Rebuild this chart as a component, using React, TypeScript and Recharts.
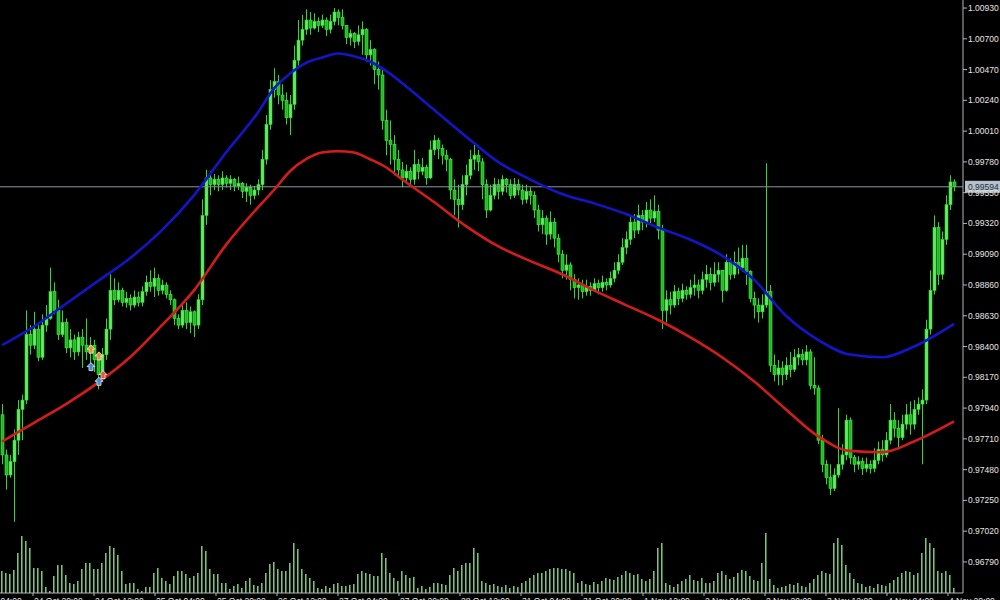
import React from "react";
import { ComposedChart, Bar, Line, XAxis, YAxis, Scatter, ReferenceLine } from "recharts";

const FONT = "Liberation Sans, Arial, sans-serif";

// Hourly candles (open of each candle = previous close)
const FIRST_OPEN = 0.9789;
const closes = [
  0.9759, 0.9744, 0.9754, 0.9770, 0.9793, 0.9800, 0.9849, 0.9841, 0.9853, 0.9832,
  0.9856, 0.9861, 0.9881, 0.9867, 0.9849, 0.9858, 0.9839, 0.9845, 0.9836, 0.9847,
  0.9841, 0.9836, 0.9841, 0.9830, 0.9819, 0.9834, 0.9853, 0.9882, 0.9875, 0.9882,
  0.9873, 0.9876, 0.9871, 0.9877, 0.9873, 0.9881, 0.9888, 0.9885, 0.9891, 0.9882,
  0.9886, 0.9879, 0.9875, 0.9861, 0.9856, 0.9867, 0.9858, 0.9866, 0.9856, 0.9875,
  0.9938, 0.9966, 0.9961, 0.9965, 0.9961, 0.9966, 0.9962, 0.9965, 0.9960, 0.9962,
  0.9956, 0.9959, 0.9953, 0.9957, 0.9961, 0.9980, 1.0006, 1.0032, 1.0038, 1.0028,
  1.0024, 1.0011, 1.0021, 1.0054, 1.0069, 1.0077, 1.0084, 1.0078, 1.0083, 1.0080,
  1.0084, 1.0077, 1.0083, 1.0090, 1.0086, 1.0080, 1.0071, 1.0074, 1.0068, 1.0073,
  1.0077, 1.0058, 1.0062, 1.0047, 1.0043, 1.0009, 0.9994, 0.9991, 0.9980, 0.9972,
  0.9966, 0.9971, 0.9965, 0.9976, 0.9971, 0.9974, 0.9966, 0.9987, 0.9994, 0.9988,
  0.9983, 0.9980, 0.9957, 0.9950, 0.9946, 0.9961, 0.9968, 0.9980, 0.9983, 0.9978,
  0.9961, 0.9942, 0.9953, 0.9961, 0.9956, 0.9965, 0.9961, 0.9953, 0.9961, 0.9957,
  0.9950, 0.9956, 0.9953, 0.9942, 0.9931, 0.9936, 0.9924, 0.9933, 0.9921, 0.9909,
  0.9897, 0.9901, 0.9890, 0.9884, 0.9886, 0.9881, 0.9885, 0.9882, 0.9887, 0.9884,
  0.9888, 0.9886, 0.9891, 0.9897, 0.9903, 0.9914, 0.9920, 0.9933, 0.9927, 0.9938,
  0.9933, 0.9942, 0.9936, 0.9941, 0.9927, 0.9867, 0.9875, 0.9871, 0.9881, 0.9876,
  0.9882, 0.9879, 0.9884, 0.9886, 0.9882, 0.9890, 0.9894, 0.9888, 0.9894, 0.9897,
  0.9882, 0.9903, 0.9894, 0.9903, 0.9899, 0.9906, 0.9896, 0.9876, 0.9871, 0.9866,
  0.9871, 0.9881, 0.9826, 0.9819, 0.9824, 0.9819, 0.9826, 0.9823, 0.9832, 0.9834,
  0.9830, 0.9836, 0.9811, 0.9809, 0.9770, 0.9752, 0.9742, 0.9734, 0.9744, 0.9752,
  0.9759, 0.9785, 0.9757, 0.9752, 0.9754, 0.9749, 0.9752, 0.9749, 0.9755, 0.9763,
  0.9759, 0.9770, 0.9785, 0.9779, 0.9772, 0.9782, 0.9789, 0.9782, 0.9793, 0.9797,
  0.9800, 0.9853, 0.9882, 0.9929, 0.9894, 0.9920, 0.9946, 0.9963, 0.99594,
];
const highs = [
  0.9797, 0.9763, 0.9759, 0.9778, 0.9800, 0.9804, 0.9867, 0.9856, 0.9866, 0.9856,
  0.9864, 0.9871, 0.9899, 0.9888, 0.9875, 0.9867, 0.9861, 0.9853, 0.9849, 0.9851,
  0.9853, 0.9861, 0.9847, 0.9845, 0.9836, 0.9839, 0.9861, 0.9894, 0.9891, 0.9888,
  0.9884, 0.9881, 0.9879, 0.9882, 0.9881, 0.9885, 0.9893, 0.9897, 0.9899, 0.9894,
  0.9890, 0.9888, 0.9882, 0.9876, 0.9864, 0.9871, 0.9873, 0.9870, 0.9867, 0.9879,
  0.9950, 0.9972, 0.9971, 0.9969, 0.9968, 0.9971, 0.9968, 0.9968, 0.9966, 0.9967,
  0.9963, 0.9962, 0.9961, 0.9960, 0.9965, 0.9987, 1.0013, 1.0039, 1.0048, 1.0043,
  1.0036, 1.0030, 1.0028, 1.0065, 1.0084, 1.0088, 1.0092, 1.0090, 1.0089, 1.0086,
  1.0088, 1.0086, 1.0088, 1.0093, 1.0092, 1.0092, 1.0080, 1.0077, 1.0075, 1.0080,
  1.0083, 1.0078, 1.0069, 1.0063, 1.0053, 1.0047, 1.0017, 1.0009, 0.9998, 0.9987,
  0.9978, 0.9976, 0.9974, 0.9987, 0.9980, 0.9981, 0.9976, 0.9994, 0.9998, 0.9996,
  0.9991, 0.9987, 0.9981, 0.9965, 0.9961, 0.9968, 0.9976, 0.9987, 0.9991, 0.9987,
  0.9981, 0.9965, 0.9961, 0.9966, 0.9965, 0.9968, 0.9966, 0.9965, 0.9966, 0.9965,
  0.9961, 0.9961, 0.9959, 0.9956, 0.9946, 0.9942, 0.9938, 0.9941, 0.9936, 0.9924,
  0.9912, 0.9909, 0.9903, 0.9894, 0.9891, 0.9890, 0.9890, 0.9888, 0.9891, 0.9890,
  0.9893, 0.9891, 0.9896, 0.9903, 0.9909, 0.9921, 0.9926, 0.9938, 0.9939, 0.9946,
  0.9942, 0.9948, 0.9950, 0.9953, 0.9946, 0.9931, 0.9882, 0.9881, 0.9886, 0.9884,
  0.9887, 0.9885, 0.9890, 0.9894, 0.9890, 0.9896, 0.9901, 0.9899, 0.9903, 0.9903,
  0.9897, 0.9909, 0.9906, 0.9911, 0.9914, 0.9916, 0.9916, 0.9897, 0.9881, 0.9876,
  0.9879, 0.9977, 0.9886, 0.9834, 0.9830, 0.9829, 0.9832, 0.9836, 0.9838, 0.9839,
  0.9838, 0.9841, 0.9838, 0.9832, 0.9811, 0.9774, 0.9755, 0.9752, 0.9749, 0.9794,
  0.9767, 0.9789, 0.9787, 0.9759, 0.9758, 0.9757, 0.9757, 0.9755, 0.9764, 0.9769,
  0.9770, 0.9776, 0.9797, 0.9791, 0.9785, 0.9789, 0.9797, 0.9799, 0.9800, 0.9802,
  0.9808, 0.9860, 0.9897, 0.9938, 0.9933, 0.9926, 0.9953, 0.9968, 0.9965,
];
const lows = [
  0.9752, 0.9733, 0.9742, 0.9709, 0.9759, 0.9770, 0.9797, 0.9834, 0.9838, 0.9829,
  0.9830, 0.9851, 0.9860, 0.9864, 0.9845, 0.9847, 0.9835, 0.9832, 0.9830, 0.9833,
  0.9824, 0.9830, 0.9826, 0.9821, 0.9808, 0.9814, 0.9830, 0.9845, 0.9871, 0.9873,
  0.9870, 0.9869, 0.9867, 0.9869, 0.9870, 0.9870, 0.9878, 0.9881, 0.9877, 0.9878,
  0.9879, 0.9876, 0.9871, 0.9856, 0.9853, 0.9854, 0.9853, 0.9850, 0.9847, 0.9853,
  0.9871, 0.9931, 0.9953, 0.9957, 0.9956, 0.9957, 0.9959, 0.9957, 0.9956, 0.9957,
  0.9951, 0.9948, 0.9946, 0.9950, 0.9953, 0.9957, 0.9976, 1.0002, 1.0026, 1.0021,
  1.0017, 1.0006, 0.9998, 1.0017, 1.0050, 1.0065, 1.0073, 1.0073, 1.0077, 1.0075,
  1.0078, 1.0072, 1.0074, 1.0080, 1.0080, 1.0077, 1.0066, 1.0065, 1.0063, 1.0065,
  1.0058, 1.0053, 1.0050, 1.0036, 1.0032, 1.0002, 0.9983, 0.9976, 0.9968, 0.9966,
  0.9959, 0.9962, 0.9960, 0.9961, 0.9965, 0.9968, 0.9961, 0.9965, 0.9983, 0.9980,
  0.9976, 0.9971, 0.9950, 0.9938, 0.9929, 0.9942, 0.9953, 0.9965, 0.9972, 0.9971,
  0.9950, 0.9936, 0.9941, 0.9950, 0.9950, 0.9953, 0.9955, 0.9950, 0.9951, 0.9953,
  0.9946, 0.9947, 0.9946, 0.9936, 0.9926, 0.9924, 0.9916, 0.9920, 0.9914, 0.9903,
  0.9891, 0.9890, 0.9882, 0.9876, 0.9875, 0.9876, 0.9878, 0.9878, 0.9881, 0.9879,
  0.9881, 0.9882, 0.9884, 0.9888, 0.9894, 0.9901, 0.9909, 0.9916, 0.9921, 0.9924,
  0.9927, 0.9929, 0.9931, 0.9933, 0.9920, 0.9853, 0.9858, 0.9864, 0.9869, 0.9871,
  0.9873, 0.9875, 0.9876, 0.9878, 0.9876, 0.9879, 0.9884, 0.9882, 0.9885, 0.9888,
  0.9873, 0.9881, 0.9890, 0.9891, 0.9894, 0.9896, 0.9886, 0.9873, 0.9861, 0.9858,
  0.9861, 0.9869, 0.9821, 0.9814, 0.9811, 0.9811, 0.9815, 0.9817, 0.9821, 0.9826,
  0.9826, 0.9826, 0.9808, 0.9804, 0.9767, 0.9746, 0.9737, 0.9729, 0.9732, 0.9742,
  0.9748, 0.9755, 0.9752, 0.9746, 0.9748, 0.9744, 0.9746, 0.9745, 0.9746, 0.9752,
  0.9754, 0.9757, 0.9767, 0.9772, 0.9763, 0.9770, 0.9778, 0.9774, 0.9778, 0.9789,
  0.9752, 0.9797, 0.9849, 0.9879, 0.9886, 0.9890, 0.9916, 0.9942, 0.9956,
];
// Tick volume (hundreds)
const volumes = [
  22, 20, 19, 23, 40, 57, 52, 45, 25, 25,
  22, 6, 2, 17, 28, 28, 18, 10, 9, 12,
  24, 30, 30, 24, 24, 30, 40, 47, 45, 38,
  22, 9, 10, 10, 4, 2, 6, 6, 20, 25,
  15, 12, 9, 17, 22, 22, 19, 15, 17, 20,
  47, 42, 24, 19, 19, 10, 10, 4, 7, 9,
  5, 12, 15, 8, 7, 10, 20, 29, 31, 24,
  22, 22, 30, 50, 44, 24, 19, 15, 12, 5,
  4, 7, 5, 9, 10, 7, 7, 8, 9, 19,
  22, 20, 19, 17, 17, 40, 35, 20, 15, 12,
  22, 18, 15, 16, 5, 7, 4, 6, 10, 10,
  9, 8, 18, 25, 22, 28, 30, 30, 45, 40,
  12, 10, 8, 9, 7, 6, 8, 5, 7, 6,
  10, 12, 15, 18, 20, 20, 22, 24, 25, 25,
  24, 24, 22, 20, 10, 12, 9, 8, 11, 9,
  12, 15, 14, 13, 16, 18, 22, 20, 18, 19,
  14, 12, 14, 22, 45, 50, 10, 8, 6, 9,
  12, 14, 18, 13, 12, 15, 10, 10, 12, 20,
  22, 18, 14, 16, 20, 23, 22, 17, 13, 12,
  30, 60, 14, 8, 5, 6, 7, 9, 8, 10,
  7, 6, 10, 14, 18, 22, 20, 19, 50, 55,
  48, 28, 20, 14, 10, 9, 6, 7, 5, 9,
  8, 7, 10, 13, 16, 20, 22, 21, 18, 20,
  40, 55, 50, 45, 22, 20, 22, 18, 5,
];

// Moving averages sampled at candle indices
const maIdx = [0, 8, 16, 24, 32, 40, 48, 56, 64, 68, 72, 76, 80, 84, 88, 92, 96, 100, 108, 116, 124, 132, 140, 148, 156, 164, 172, 180, 188, 196, 204, 212, 220, 228, 238];
const blueMa = [0.9841, 0.9855, 0.9872, 0.9889, 0.9906, 0.9927, 0.9953, 0.9985, 1.0015, 1.0033, 1.0044, 1.0052, 1.0056, 1.0059, 1.0057, 1.0053, 1.0046, 1.0037, 1.0017, 0.9997, 0.9978, 0.9965, 0.9954, 0.9947, 0.9939, 0.9929, 0.9920, 0.9908, 0.9890, 0.9863, 0.9845, 0.9834, 0.9832, 0.9840, 0.9857];
const redMa = [0.9769, 0.9783, 0.9797, 0.9813, 0.9832, 0.9856, 0.9882, 0.9916, 0.9944, 0.9957, 0.9971, 0.9980, 0.9985, 0.9986, 0.9985, 0.9980, 0.9974, 0.9965, 0.9948, 0.9930, 0.9915, 0.9904, 0.9894, 0.9882, 0.9871, 0.9860, 0.9847, 0.9832, 0.9814, 0.9793, 0.9773, 0.9762, 0.9761, 0.9769, 0.9784];

const priceTicks = [1.0093, 1.007, 1.0047, 1.0024, 1.0001, 0.9978, 0.9955, 0.9932, 0.9909, 0.9886, 0.9863, 0.984, 0.9817, 0.9794, 0.9771, 0.9748, 0.9725, 0.9702, 0.9679];
const timeTickPos = [-7.5, 7.75, 23, 38.25, 53.5, 68.75, 84, 99.25, 114.5, 129.75, 145, 160.25, 175.5, 190.75, 206, 221.25, 236.5];
const timeTickLabels = ["24 Oct 04:00", "24 Oct 20:00", "24 Oct 12:00", "25 Oct 04:00", "25 Oct 20:00", "26 Oct 12:00", "27 Oct 04:00", "27 Oct 20:00", "28 Oct 12:00", "31 Oct 04:00", "31 Oct 20:00", "1 Nov 12:00", "2 Nov 04:00", "2 Nov 20:00", "3 Nov 12:00", "4 Nov 04:00", "4 Nov 20:00"];

const LAST_PRICE = 0.99594;
const tradeArrows = [
  { i: 22.25, p: 0.9838, color: "#e8902a" },
  { i: 24.25, p: 0.9833, color: "#e8902a" },
  { i: 22.25, p: 0.9825, color: "#3a8ee0" },
  { i: 24.25, p: 0.9814, color: "#3a8ee0" },
  { i: 25.25, p: 0.9819, color: "#e05a4a" },
];

const data = closes.map((c, i) => {
  const k = maIdx.indexOf(i);
  return {
    i,
    open: i === 0 ? FIRST_OPEN : closes[i - 1],
    close: c,
    high: highs[i],
    low: lows[i],
    range: [lows[i], highs[i]],
    vol: volumes[i],
    blue: k >= 0 ? blueMa[k] : null,
    red: k >= 0 ? redMa[k] : null,
  };
});

const Candle = (props: any) => {
  const { x, y, width, height, payload } = props;
  if (x == null || !payload) return null;
  const cx = Math.round(x + width / 2) + 0.5;
  const { open, close, high, low } = payload;
  const span = high - low || 1e-9;
  const toY = (v: number) => y + ((high - v) / span) * height;
  const yo = toY(open);
  const yc = toY(close);
  const top = Math.min(yo, yc);
  const bh = Math.max(1, Math.abs(yo - yc));
  const bull = close >= open;
  return (
    <g>
      <line x1={cx} x2={cx} y1={y} y2={y + height} stroke="#2ed82e" strokeWidth={1} />
      <rect x={cx - 1.5} y={top} width={3} height={bh} fill={bull ? "#66ea66" : "#22b822"} stroke={bull ? "#38d838" : "#50e850"} strokeWidth={0.6} />
    </g>
  );
};

const VolBar = (props: any) => {
  const { x, y, width, height } = props;
  if (x == null || !(height > 0)) return null;
  const cx = Math.round(x + width / 2);
  return (
    <g>
      <rect x={cx - 1} y={y} width={1} height={height} fill="#93b493" />
      <rect x={cx} y={y} width={1} height={height} fill="#2f7a2f" />
    </g>
  );
};

const ArrowMark = (props: any) => {
  const { cx, cy, payload } = props;
  if (cx == null) return null;
  const c = payload.color;
  return (
    <g>
      <polygon
        points={`${cx},${cy - 4} ${cx + 4},${cy} ${cx + 2},${cy} ${cx + 2},${cy + 4} ${cx - 2},${cy + 4} ${cx - 2},${cy} ${cx - 4},${cy}`}
        fill={c}
        stroke="#f4f0e0"
        strokeWidth={0.8}
      />
    </g>
  );
};

const XTick = (props: any) => {
  const { x, y, payload } = props;
  const k = timeTickPos.indexOf(payload.value);
  const label = k >= 0 ? timeTickLabels[k] : "";
  return (
    <text x={x + 1} y={y + 6} fill="#e6e6e6" fontSize={8.5} fontFamily={FONT} textAnchor="start">
      {label}
    </text>
  );
};

const PriceTag = (props: any) => {
  const vb = props.viewBox;
  if (!vb) return null;
  const x = vb.x + vb.width + 2;
  const y = vb.y;
  return (
    <g>
      <rect x={x} y={y - 6} width={36} height={12} fill="#b4c0ca" />
      <text x={x + 3} y={y} dy="0.36em" fill="#24303c" fontSize={8.5} fontFamily={FONT}>
        {LAST_PRICE.toFixed(5)}
      </text>
    </g>
  );
};

export default function App() {
  return (
    <div style={{ position: "absolute", left: 0, top: 0, width: 1000, height: 600, background: "#000" }}>
      <ComposedChart
        width={1000}
        height={600}
        data={data}
        margin={{ top: 0, right: 0, bottom: 0, left: 0 }}
        style={{ background: "#000" }}
      >
        <XAxis
          dataKey="i"
          type="number"
          domain={[-0.5, 240.25]}
          allowDataOverflow
          ticks={timeTickPos}
          interval={0}
          height={7}
          tickSize={3}
          tickMargin={2}
          axisLine={{ stroke: "#b4b4b4" }}
          tickLine={{ stroke: "#b4b4b4" }}
          tick={<XTick />}
        />
        <XAxis xAxisId="v" dataKey="i" type="number" domain={[-0.5, 240.25]} allowDataOverflow hide />
        <YAxis
          orientation="right"
          type="number"
          domain={[0.96558, 1.0099]}
          allowDataOverflow
          ticks={priceTicks}
          interval={0}
          width={37}
          tickSize={4}
          tickMargin={1}
          axisLine={{ stroke: "#b4b4b4" }}
          tickLine={{ stroke: "#b4b4b4" }}
          tick={{ fill: "#e6e6e6", fontSize: 8.5, fontFamily: FONT }}
          tickFormatter={(v: number) => v.toFixed(5)}
        />
        <YAxis yAxisId="v" type="number" domain={[0, 593]} allowDataOverflow hide />
        <Bar xAxisId="v" yAxisId="v" dataKey="vol" barSize={2} shape={<VolBar />} isAnimationActive={false} />
        <ReferenceLine y={LAST_PRICE} stroke="#8c959e" strokeWidth={1} label={(p: any) => <PriceTag {...p} />} />
        <Bar dataKey="range" barSize={3} shape={<Candle />} isAnimationActive={false} />
        <Line dataKey="blue" type="monotone" stroke="#1414c8" strokeWidth={2.6} dot={false} activeDot={false} connectNulls isAnimationActive={false} />
        <Line dataKey="red" type="monotone" stroke="#d41c1c" strokeWidth={2.6} dot={false} activeDot={false} connectNulls isAnimationActive={false} />
        <Scatter data={tradeArrows} dataKey="p" shape={<ArrowMark />} isAnimationActive={false} />
      </ComposedChart>
    </div>
  );
}
